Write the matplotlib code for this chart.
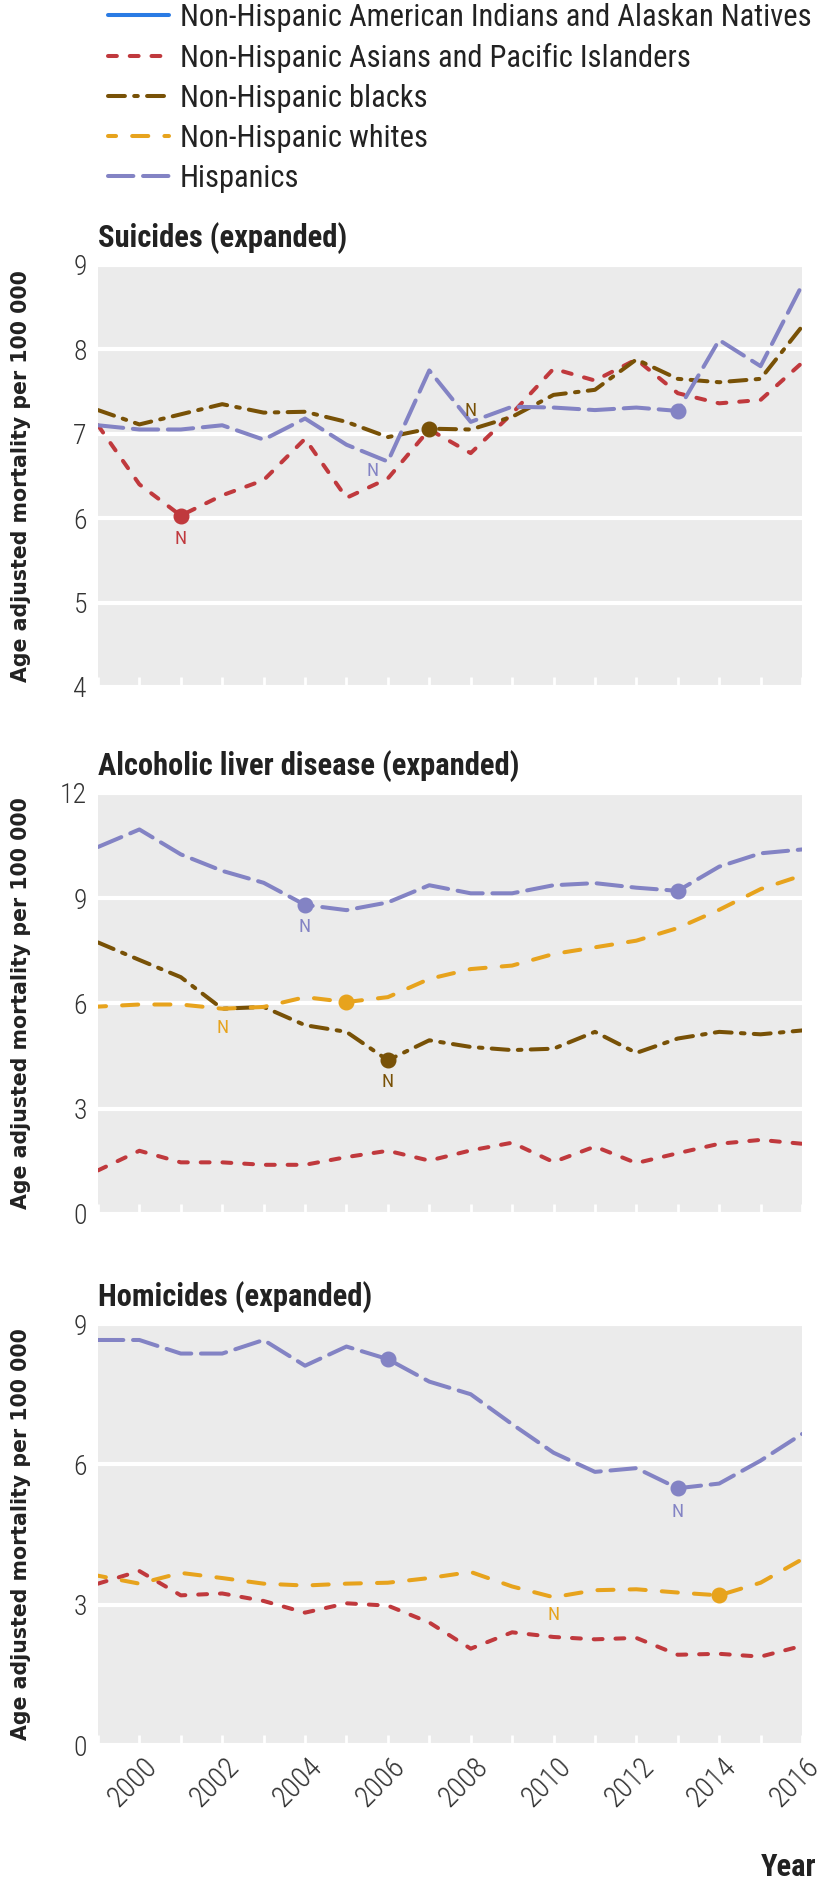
import matplotlib
matplotlib.use("Agg")
import matplotlib.pyplot as plt
from matplotlib import font_manager
from matplotlib.lines import Line2D
from matplotlib.transforms import ScaledTranslation, blended_transform_factory

# Age adjusted mortality per 100 000, 1999-2016
years = list(range(1999, 2017))

sui_asian = [7.10, 6.40, 6.03, 6.27, 6.45, 6.94, 6.24, 6.47, 7.05, 6.77, 7.24, 7.77, 7.63, 7.88, 7.48, 7.36, 7.40, 7.84]
sui_black = [7.28, 7.11, 7.23, 7.35, 7.25, 7.26, 7.14, 6.96, 7.06, 7.05, 7.20, 7.46, 7.52, 7.88, 7.65, 7.61, 7.65, 8.27]
sui_hisp = [7.10, 7.05, 7.05, 7.10, 6.93, 7.18, 6.87, 6.67, 7.75, 7.14, 7.32, 7.31, 7.28, 7.31, 7.27, 8.11, 7.80, 8.76]

alc_hisp = [10.46, 10.96, 10.25, 9.78, 9.44, 8.81, 8.66, 8.88, 9.37, 9.14, 9.14, 9.37, 9.43, 9.30, 9.21, 9.90, 10.28, 10.39]
alc_white = [5.91, 5.97, 5.97, 5.85, 5.90, 6.18, 6.04, 6.18, 6.70, 6.98, 7.08, 7.41, 7.60, 7.79, 8.15, 8.67, 9.26, 9.65]
alc_black = [7.74, 7.24, 6.75, 5.85, 5.90, 5.38, 5.19, 4.38, 4.95, 4.76, 4.67, 4.71, 5.19, 4.59, 5.00, 5.19, 5.12, 5.23]
alc_asian = [1.24, 1.80, 1.47, 1.47, 1.40, 1.40, 1.62, 1.80, 1.52, 1.81, 2.03, 1.48, 1.92, 1.45, 1.73, 2.00, 2.11, 2.00]

hom_hisp = [8.66, 8.66, 8.37, 8.37, 8.66, 8.11, 8.52, 8.25, 7.77, 7.50, 6.86, 6.25, 5.84, 5.92, 5.49, 5.59, 6.08, 6.65]
hom_white = [3.62, 3.45, 3.68, 3.57, 3.45, 3.41, 3.45, 3.47, 3.57, 3.70, 3.39, 3.16, 3.31, 3.33, 3.26, 3.20, 3.47, 3.97]
hom_asian = [3.45, 3.72, 3.20, 3.24, 3.08, 2.83, 3.03, 2.98, 2.62, 2.06, 2.41, 2.31, 2.26, 2.29, 1.93, 1.95, 1.89, 2.12]

groups = ["Non-Hispanic American Indians and Alaskan Natives",
          "Non-Hispanic Asians and Pacific Islanders",
          "Non-Hispanic blacks",
          "Non-Hispanic whites",
          "Hispanics"]

colors = {"aian": "#2a7be4", "asian": "#c0393d", "black": "#785106",
          "white": "#e7a31d", "hisp": "#8383c4"}
# dash patterns in line widths (round caps add one width to every dash)
styles = {"aian": "-", "asian": (0, (2.2, 3.2)), "black": (0, (4.2, 2.3, 0.9, 2.3)),
          "white": (2.0, (4.0, 4.0)), "hisp": (0, (6.3, 2.4))}
keys = ["aian", "asian", "black", "white", "hisp"]

panels = [
    ("Suicides (expanded)", {"asian": sui_asian, "black": sui_black, "hisp": sui_hisp},
     (4, 9), [4, 5, 6, 7, 8, 9]),
    ("Alcoholic liver disease (expanded)",
     {"asian": alc_asian, "black": alc_black, "white": alc_white, "hisp": alc_hisp},
     (0, 12), [0, 3, 6, 9, 12]),
    ("Homicides (expanded)", {"asian": hom_asian, "white": hom_white, "hisp": hom_hisp},
     (0, 9), [0, 3, 6, 9]),
]

# highlighted points and "N" labels: (series, year) and (series, year, dx, dy in points)
dots = [
    [("asian", 2001), ("black", 2007), ("hisp", 2013)],
    [("hisp", 2004), ("hisp", 2013), ("white", 2005), ("black", 2006)],
    [("hisp", 2006), ("hisp", 2013), ("white", 2014)],
]
n_labels = [
    [("asian", 2001, 0, -17), ("hisp", 2006, -11, -7), ("black", 2008, 0, 13)],
    [("hisp", 2004, 0, -16), ("white", 2002, 0, -14), ("black", 2006, 0, -16)],
    [("hisp", 2013, 0, -17), ("white", 2010, 0, -13)],
]

# pick a narrow font if one is installed
installed = {f.name for f in font_manager.fontManager.ttflist}
prefs = ["Liberation Sans Narrow", "Roboto Condensed", "Open Sans Condensed", "Roboto"]
narrow = next((n for n in prefs if n in installed), "DejaVu Sans")
cond = [narrow, "DejaVu Sans"]

LW = 2.9

fig = plt.figure(figsize=(8.24, 18.8), dpi=100)
ax_boxes = [(0.1189, 0.6346, 0.8544, 0.2245),
            (0.1189, 0.3543, 0.8544, 0.2239),
            (0.1189, 0.0718, 0.8544, 0.2239)]

for i, (title, series, ylim, yticks) in enumerate(panels):
    ax = fig.add_axes(ax_boxes[i])
    ax.set_facecolor("#ebebeb")
    for k in keys:
        if k not in series:
            continue
        ax.plot(years, series[k], color=colors[k], linestyle=styles[k], lw=LW,
                dash_capstyle="round", solid_capstyle="round", zorder=3)
    for k, yr in dots[i]:
        ax.plot(yr, series[k][years.index(yr)], "o", color=colors[k], ms=10.5, zorder=4)
    for k, yr, dx, dy in n_labels[i]:
        ax.annotate("N", (yr, series[k][years.index(yr)]), xytext=(dx, dy),
                    textcoords="offset points", ha="center", va="center",
                    color=colors[k], fontsize=14, family=cond)
    ax.set_xlim(1999, 2016)
    ax.set_ylim(*ylim)
    ax.set_yticks(yticks)
    ax.set_yticklabels([str(t) for t in yticks], family=cond, fontsize=20,
                       fontweight="light", color="#333333")
    ax.set_xticks(years)
    ax.set_xticklabels([])
    if i == 2:
        # rotated year labels, placed just below-right of each even tick
        base = blended_transform_factory(ax.transData, ax.transAxes)
        off = ScaledTranslation(13 / 100, -17 / 100, fig.dpi_scale_trans)
        for y in years:
            if y % 2 == 0:
                ax.text(y, 0, str(y), transform=base + off, rotation=45, ha="right",
                        va="center", rotation_mode="anchor", family=cond, fontsize=21,
                        fontweight="light", color="#333333")
    ax.tick_params(axis="x", direction="in", color="white", length=7, width=2)
    ax.tick_params(axis="y", length=0, pad=8)
    ax.grid(axis="y", color="white", lw=3)
    ax.set_axisbelow(True)
    for s in ax.spines.values():
        s.set_visible(False)
    ax.set_title(title, loc="left", fontsize=22, fontweight="bold", family=cond,
                 color="#222222", pad=13)
    ax.set_ylabel("Age adjusted mortality per 100 000", fontsize=14.8, fontweight="bold",
                  color="#222222")
    ax.yaxis.set_label_coords(-0.095, 0.5)

fig.text(816 / 824, 1 - 1867 / 1880, "Year", ha="right", va="center", fontsize=22,
         fontweight="bold", family=cond, color="#222222")

handles = [Line2D([0], [0], color=colors[k], linestyle=styles[k], lw=LW,
                  dash_capstyle="round", solid_capstyle="round") for k in keys]
fig.legend(handles, groups, loc="upper left", bbox_to_anchor=(108 / 824, 1 - 3 / 1880),
           frameon=False, prop={"family": cond, "size": 22}, handlelength=2.0,
           handletextpad=0.36, labelspacing=0.36, borderaxespad=0, borderpad=0,
           labelcolor="#222222")

fig.savefig("out.png", dpi=100)
